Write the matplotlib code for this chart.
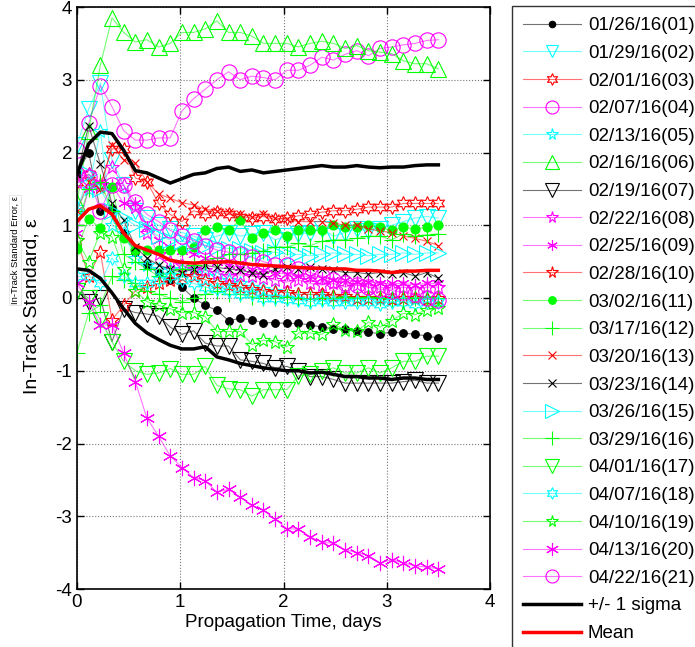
import numpy as np
import matplotlib
matplotlib.use('Agg')
import matplotlib.pyplot as plt
from matplotlib.colors import to_rgba

plt.rcParams['font.family'] = ['Liberation Sans', 'DejaVu Sans']
plt.rcParams['axes.unicode_minus'] = False

# propagation time, days (32 epochs)
days = [0.000, 0.113, 0.226, 0.339, 0.452, 0.565, 0.677, 0.790, 0.903, 1.016,
        1.129, 1.242, 1.355, 1.468, 1.581, 1.694, 1.806, 1.919, 2.032, 2.145,
        2.258, 2.371, 2.484, 2.597, 2.710, 2.823, 2.935, 3.048, 3.161, 3.274,
        3.387, 3.500]

labels = ['01/26/16(01)', '01/29/16(02)', '02/01/16(03)', '02/07/16(04)', '02/13/16(05)',
          '02/16/16(06)', '02/19/16(07)', '02/22/16(08)', '02/25/16(09)', '02/28/16(10)',
          '03/02/16(11)', '03/17/16(12)', '03/20/16(13)', '03/23/16(14)', '03/26/16(15)',
          '03/29/16(16)', '04/01/16(17)', '04/07/16(18)', '04/10/16(19)', '04/13/16(20)',
          '04/22/16(21)']

s01 = [1.7, 2.0, 1.2, 1.22, 0.9, 0.63, 0.45, 0.34, 0.25, 0.15, 0.0, -0.1, -0.17, -0.31, -0.28, -0.3,
       -0.34, -0.34, -0.35, -0.35, -0.37, -0.4, -0.42, -0.43, -0.46, -0.47, -0.49, -0.47, -0.48, -0.5, -0.52, -0.55]
s02 = [2.1, 2.6, 2.95, 1.9, 1.55, 1.2, 1.1, 1.0, 0.95, 0.9, 0.85, 0.8, 0.85, 0.9, 0.85, 0.88,
       0.9, 0.8, 0.85, 0.88, 0.9, 0.95, 0.85, 0.9, 0.95, 0.92, 0.95, 1.0, 1.05, 1.1, 1.12, 1.1]
s03 = [1.6, 1.7, 1.55, 2.05, 2.05, 1.65, 1.6, 1.3, 1.15, 1.05, 1.2, 1.15, 1.18, 1.15, 1.12, 1.1,
       1.12, 1.08, 1.1, 1.13, 1.15, 1.18, 1.2, 1.2, 1.22, 1.25, 1.25, 1.25, 1.3, 1.3, 1.3, 1.3]
s04 = [2.04, 2.4, 2.92, 2.63, 2.3, 2.17, 2.17, 2.2, 2.2, 2.57, 2.74, 2.87, 3.0, 3.11, 3.0, 3.05,
       3.03, 3.0, 3.13, 3.13, 3.2, 3.31, 3.27, 3.35, 3.4, 3.33, 3.43, 3.45, 3.48, 3.5, 3.54, 3.55]
s05 = [1.25, 1.5, 2.3, 1.0, 0.9, 0.55, 0.45, 0.4, 0.4, 0.4, 0.38, 0.35, 0.3, 0.25, 0.2, 0.15,
       0.12, 0.1, 0.08, 0.05, 0.05, 0.03, 0.03, 0.0, 0.0, 0.0, -0.02, 0.0, 0.0, -0.02, 0.0, 0.0]
s06 = [1.3, 2.3, 3.2, 3.85, 3.65, 3.52, 3.55, 3.45, 3.5, 3.65, 3.65, 3.7, 3.81, 3.65, 3.65, 3.6,
       3.5, 3.5, 3.5, 3.45, 3.5, 3.53, 3.5, 3.43, 3.47, 3.4, 3.38, 3.36, 3.26, 3.22, 3.22, 3.15]
s07 = [0.1, -0.05, 0.0, -0.6, -0.15, -0.2, -0.22, -0.25, -0.4, -0.5, -0.45, -0.62, -0.66, -0.66, -0.85, -0.87,
       -0.9, -0.96, -0.94, -1.0, -1.08, -1.08, -1.12, -1.17, -1.17, -1.17, -1.17, -1.17, -1.15, -1.13, -1.17, -1.17]
s08 = [1.6, 1.7, 1.55, 1.8, 1.55, 1.25, 0.9, 0.6, 0.5, 0.45, 0.4, 0.38, 0.35, 0.3, 0.32, 0.3,
       0.28, 0.25, 0.22, 0.25, 0.2, 0.18, 0.2, 0.15, 0.18, 0.15, 0.15, 0.12, 0.15, 0.12, 0.15, 0.15]
s09 = [0.9, 1.5, 1.6, 1.55, 1.3, 1.3, 0.97, 0.8, 0.7, 0.65, 0.6, 0.55, 0.5, 0.45, 0.42, 0.4,
       0.38, 0.35, 0.33, 0.3, 0.3, 0.28, 0.25, 0.25, 0.22, 0.22, 0.2, 0.2, 0.2, 0.18, 0.2, 0.2]
s10 = [0.8, 0.3, 0.63, -0.3, -0.1, 0.1, 0.15, 0.2, 0.25, 0.3, 0.3, 0.25, 0.2, 0.18, 0.15, 0.12,
       0.1, 0.08, 0.08, 0.05, 0.05, 0.05, 0.03, 0.03, 0.0, 0.0, 0.0, -0.02, 0.0, 0.0, -0.02, 0.0]
s11 = [0.68, 1.09, 0.96, 1.52, 0.82, 0.66, 0.66, 0.66, 0.66, 0.66, 0.7, 0.93, 0.97, 0.93, 1.07, 0.82,
       0.9, 0.93, 0.85, 0.93, 0.93, 0.93, 1.0, 0.97, 0.97, 1.0, 0.97, 0.93, 0.97, 0.95, 0.97, 1.0]
s12 = [-0.75, -0.2, -0.1, 0.3, 0.25, 0.2, 0.1, 0.05, 0.0, -0.05, 0.0, 0.05, 0.1, 0.05, 0.05, 0.02,
       0.0, 0.0, 0.02, 0.0, -0.02, 0.0, 0.0, 0.02, 0.0, 0.02, 0.0, -0.02, 0.0, 0.0, 0.02, 0.0]
s13 = [1.2, 1.6, 1.5, 2.1, 1.9, 1.85, 1.6, 1.43, 1.37, 1.31, 1.28, 1.22, 1.2, 1.18, 1.15, 1.12,
       1.15, 1.1, 1.08, 1.05, 1.05, 1.05, 1.03, 1.0, 1.0, 0.95, 0.92, 0.9, 0.85, 0.82, 0.78, 0.72]
s14 = [1.7, 2.37, 1.84, 1.3, 1.07, 0.7, 0.55, 0.45, 0.4, 0.35, 0.4, 0.45, 0.42, 0.4, 0.38, 0.35,
       0.32, 0.4, 0.42, 0.4, 0.42, 0.4, 0.38, 0.35, 0.35, 0.33, 0.35, 0.33, 0.35, 0.3, 0.35, 0.27]
s15 = [1.2, 1.7, 1.5, 1.2, 1.1, 1.0, 0.95, 0.85, 0.8, 0.78, 0.75, 0.72, 0.7, 0.68, 0.68, 0.65,
       0.62, 0.63, 0.6, 0.6, 0.58, 0.6, 0.62, 0.6, 0.6, 0.58, 0.6, 0.6, 0.62, 0.6, 0.62, 0.62]
s16 = [1.0, 1.5, 1.6, 1.2, 0.6, 0.5, 0.4, 0.3, 0.35, 0.4, 0.45, 0.5, 0.55, 0.6, 0.6, 0.62,
       0.65, 0.7, 0.7, 0.75, 0.72, 0.78, 0.8, 0.8, 0.82, 0.85, 0.85, 0.8, 0.88, 0.85, 0.87, 0.88]
s17 = [0.1, 0.0, -0.3, -0.6, -0.87, -1.0, -1.05, -1.03, -0.97, -1.05, -1.05, -0.94, -1.2, -1.25, -1.26, -1.35,
       -1.26, -1.26, -1.26, -1.07, -1.05, -1.0, -0.96, -1.03, -1.03, -0.96, -1.03, -0.96, -0.87, -0.87, -0.8, -0.8]
s18 = [0.3, 0.3, 0.2, 0.55, 0.3, 0.2, 0.2, 0.25, 0.3, 0.25, 0.2, 0.15, 0.12, 0.1, 0.05, 0.05,
       0.0, 0.0, -0.02, -0.03, -0.05, -0.03, -0.05, -0.05, -0.05, -0.05, -0.08, -0.05, -0.05, -0.08, -0.05, -0.05]
s19 = [0.8, 0.5, 0.9, 0.84, 0.4, 0.1, -0.05, -0.1, -0.15, -0.2, -0.2, -0.26, -0.46, -0.46, -0.46, -0.64,
       -0.58, -0.6, -0.67, -0.48, -0.48, -0.5, -0.36, -0.44, -0.46, -0.33, -0.4, -0.31, -0.21, -0.23, -0.16, -0.14]
s20 = [0.2, -0.05, -0.37, -0.37, -0.76, -1.15, -1.65, -1.9, -2.17, -2.33, -2.47, -2.51, -2.67, -2.63, -2.74, -2.85,
       -2.92, -3.04, -3.17, -3.18, -3.28, -3.36, -3.37, -3.46, -3.5, -3.54, -3.64, -3.6, -3.64, -3.68, -3.7, -3.72]
s21 = [1.7, 1.67, 1.2, 1.55, 1.55, 1.32, 1.15, 1.05, 0.93, 0.85, 0.79, 0.72, 0.66, 0.63, 0.6, 0.56,
       0.5, 0.45, 0.45, 0.4, 0.35, 0.3, 0.25, 0.2, 0.18, 0.15, 0.12, 0.1, 0.08, 0.05, 0.0, -0.03]

mean_err = [1.05, 1.22, 1.27, 1.15, 0.89, 0.72, 0.66, 0.6, 0.52, 0.49, 0.48, 0.49, 0.49, 0.5, 0.48, 0.46,
            0.45, 0.44, 0.43, 0.42, 0.41, 0.41, 0.4, 0.4, 0.38, 0.38, 0.37, 0.35, 0.37, 0.37, 0.38, 0.38]
sigma_hi = [1.7, 2.12, 2.28, 2.26, 2.03, 1.75, 1.72, 1.65, 1.58, 1.64, 1.7, 1.72, 1.78, 1.8, 1.74, 1.76,
            1.72, 1.74, 1.76, 1.78, 1.8, 1.82, 1.8, 1.8, 1.82, 1.8, 1.79, 1.8, 1.8, 1.82, 1.83, 1.83]
sigma_lo = [0.4, 0.38, 0.27, 0.07, -0.15, -0.35, -0.48, -0.57, -0.65, -0.7, -0.7, -0.67, -0.81, -0.85, -0.9, -0.93,
            -0.96, -0.98, -1.0, -1.0, -1.03, -1.02, -1.05, -1.08, -1.08, -1.1, -1.1, -1.12, -1.1, -1.1, -1.12, -1.12]

series = [s01, s02, s03, s04, s05, s06, s07, s08, s09, s10, s11,
          s12, s13, s14, s15, s16, s17, s18, s19, s20, s21]

hexagram = (6, 1, 0)
asterisk = (6, 2, 0)
# colour, marker, marker size, filled
styles = [
    ('black', 'o', 5.5, True),
    ('cyan', 'v', 11, False),
    ('red', hexagram, 10, False),
    ('magenta', 'o', 11, False),
    ('cyan', '*', 10, False),
    ('lime', '^', 12, False),
    ('black', 'v', 12, False),
    ('magenta', '*', 10, False),
    ('magenta', asterisk, 9, False),
    ('red', '*', 10, False),
    ('lime', 'o', 6.5, True),
    ('lime', '+', 12, False),
    ('red', 'x', 6, False),
    ('black', 'x', 6, False),
    ('cyan', '>', 12, False),
    ('lime', '+', 12, False),
    ('lime', 'v', 12, False),
    ('cyan', hexagram, 10, False),
    ('lime', '*', 10, False),
    ('magenta', asterisk, 11, False),
    ('magenta', 'o', 11, False),
]

fig = plt.figure(figsize=(6.95, 6.47), dpi=100)
ax = fig.add_axes([77 / 695, 58 / 647, 413 / 695, 582 / 647])

handles = []
for vals, (col, mk, ms, filled) in zip(series, styles):
    line_col = to_rgba(col, 0.55)
    h, = ax.plot(days, vals, color=line_col, lw=0.8, marker=mk, ms=ms,
                 mec=col, mfc=col if filled else 'none', mew=0.8)
    handles.append(h)

h_sig, = ax.plot(days, sigma_hi, color='black', lw=2.5)
ax.plot(days, sigma_lo, color='black', lw=2.5)
h_mean, = ax.plot(days, mean_err, color='red', lw=2.5)

ax.set_xlim(0, 4)
ax.set_ylim(-4, 4)
ax.set_xticks([0, 1, 2, 3, 4])
ax.set_yticks([-4, -3, -2, -1, 0, 1, 2, 3, 4])
ax.grid(True, color='#777777', linestyle=':', linewidth=0.8)
ax.tick_params(direction='in', top=True, right=True, labelsize=13.5, length=5, width=1)
for sp in ax.spines.values():
    sp.set_linewidth(1.2)
ax.set_xlabel('Propagation Time, days', fontsize=13.5, labelpad=2)

fig.text(32 / 695, 1 - 306 / 647, 'In-Track Standard, \u03b5', rotation=90,
         ha='center', va='center', fontsize=14)
fig.text(15 / 695, 1 - 250 / 647, 'In-Track Standard Error, \u03b5', rotation=90,
         ha='center', va='center', fontsize=6.8,
         bbox=dict(facecolor='white', edgecolor='#dddddd', linewidth=0.5, pad=1))

leg = fig.legend(handles + [h_sig, h_mean], labels + ['+/- 1 sigma', 'Mean'],
                 loc='upper left', bbox_to_anchor=(512 / 695, 1 - 6 / 647),
                 fontsize=13.5, frameon=True, fancybox=False, borderaxespad=0,
                 handlelength=3.1, handletextpad=0.35, labelspacing=0.56,
                 borderpad=0.6, markerscale=0.85)
leg.get_frame().set_edgecolor('black')
leg.get_frame().set_linewidth(1.0)

fig.savefig('out.png', dpi=100)
